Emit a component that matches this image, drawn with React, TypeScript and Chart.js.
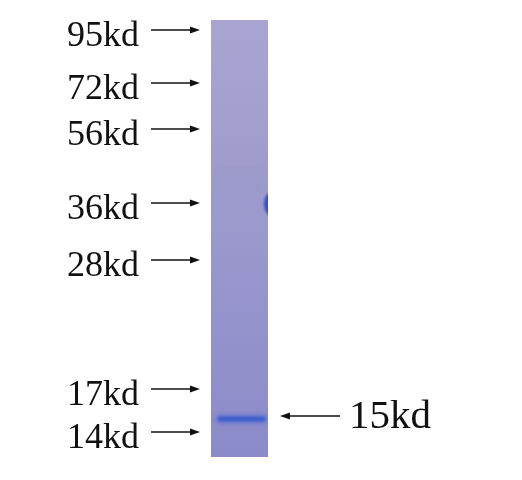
import { useEffect, useRef } from "react"
import { Chart, registerables } from "chart.js"

Chart.register(...registerables)

// Marker ladder: labels and migration (image y, px from top)
const markerLabels = ["95kd", "72kd", "56kd", "36kd", "28kd", "17kd", "14kd"]
const markerMigration = [30, 83, 129, 203, 260, 389, 432]

// Sample band
const bandLabel = "15kd"
const bandMigration = 419

// Faint smudges in the upper part of the lane
const smudgeMigration = [172, 186]

const LANE = { left: 211, right: 268, top: 20, bottom: 457 }

function arrow(ctx: CanvasRenderingContext2D, x1: number, x2: number, y: number) {
  const dir = x2 > x1 ? 1 : -1
  ctx.beginPath()
  ctx.moveTo(x1, y)
  ctx.lineTo(x2 - dir * 8, y)
  ctx.lineWidth = 1.6
  ctx.strokeStyle = "#111"
  ctx.stroke()
  ctx.beginPath()
  ctx.moveTo(x2, y)
  ctx.lineTo(x2 - dir * 10, y - 3.5)
  ctx.lineTo(x2 - dir * 10, y + 3.5)
  ctx.closePath()
  ctx.fillStyle = "#111"
  ctx.fill()
}

const gelPlugin = {
  id: "gel",
  beforeDatasetsDraw(chart: Chart) {
    const { ctx } = chart
    const xs = chart.scales.x
    const ys = chart.scales.y
    const px = (v: number) => xs.getPixelForValue(v)
    const py = (v: number) => ys.getPixelForValue(v)

    const l = px(LANE.left), r = px(LANE.right), t = py(LANE.top), b = py(LANE.bottom)
    ctx.save()
    const grad = ctx.createLinearGradient(0, t, 0, b)
    grad.addColorStop(0, "#a9a5d2")
    grad.addColorStop(0.45, "#9c99cc")
    grad.addColorStop(1, "#8b8bca")
    ctx.fillStyle = grad
    ctx.fillRect(l, t, r - l, b - t)

    ctx.beginPath()
    ctx.rect(l, t, r - l, b - t)
    ctx.clip()

    // faint smudges
    ctx.filter = "blur(3px)"
    smudgeMigration.forEach((m) => {
      ctx.fillStyle = "rgba(110,105,170,0.1)"
      ctx.fillRect(l + 4, py(m) - 2, r - l - 8, 4)
    })

    // blob at right edge
    ctx.filter = "blur(1.2px)"
    ctx.beginPath()
    ctx.ellipse(px(270), py(204), 6, 11, 0, 0, Math.PI * 2)
    ctx.fillStyle = "#3550c8"
    ctx.fill()

    // sample band
    ctx.filter = "blur(2.5px)"
    ctx.beginPath()
    ctx.moveTo(px(220), py(bandMigration))
    ctx.lineTo(px(263), py(bandMigration))
    ctx.lineWidth = 8
    ctx.lineCap = "round"
    ctx.strokeStyle = "rgba(72,100,210,0.65)"
    ctx.stroke()
    ctx.filter = "blur(1.2px)"
    ctx.lineWidth = 4.5
    ctx.strokeStyle = "#3e5fcc"
    ctx.stroke()
    ctx.restore()
  },
  afterDatasetsDraw(chart: Chart) {
    const { ctx } = chart
    const xs = chart.scales.x
    const ys = chart.scales.y
    const px = (v: number) => xs.getPixelForValue(v)
    const py = (v: number) => ys.getPixelForValue(v)

    ctx.save()
    ctx.font = '36px "Liberation Serif"'
    ctx.textAlign = "right"
    ctx.textBaseline = "alphabetic"
    ctx.fillStyle = "#111"
    markerLabels.forEach((label, i) => {
      const y = py(markerMigration[i])
      ctx.fillText(label, px(139), y + 16)
      arrow(ctx, px(151), px(200), y)
    })

    const by = py(bandMigration - 3)
    arrow(ctx, px(340), px(280), by)
    ctx.font = '41px "Liberation Serif"'
    ctx.textAlign = "left"
    ctx.fillText(bandLabel, px(349), by + 12)
    ctx.restore()
  },
}

export default function App() {
  const chartRef = useRef<HTMLCanvasElement>(null)
  const chartInstance = useRef<Chart | null>(null)

  useEffect(() => {
    if (!chartRef.current) return
    if (chartInstance.current) chartInstance.current.destroy()

    chartInstance.current = new Chart(chartRef.current, {
      type: "scatter",
      data: { datasets: [{ data: [] }] },
      options: {
        animation: false,
        responsive: true,
        maintainAspectRatio: false,
        layout: { padding: 0 },
        plugins: { legend: { display: false }, tooltip: { enabled: false } },
        scales: {
          x: { type: "linear", min: 0, max: 522, display: false },
          y: { type: "linear", min: 0, max: 480, reverse: true, display: false },
        },
      },
      plugins: [gelPlugin],
    })

    return () => {
      if (chartInstance.current) {
        chartInstance.current.destroy()
        chartInstance.current = null
      }
    }
  }, [])

  return (
    <div style={{ position: "absolute", left: 0, top: 0, width: 522, height: 480, background: "#fff" }}>
      <canvas ref={chartRef} />
    </div>
  )
}
